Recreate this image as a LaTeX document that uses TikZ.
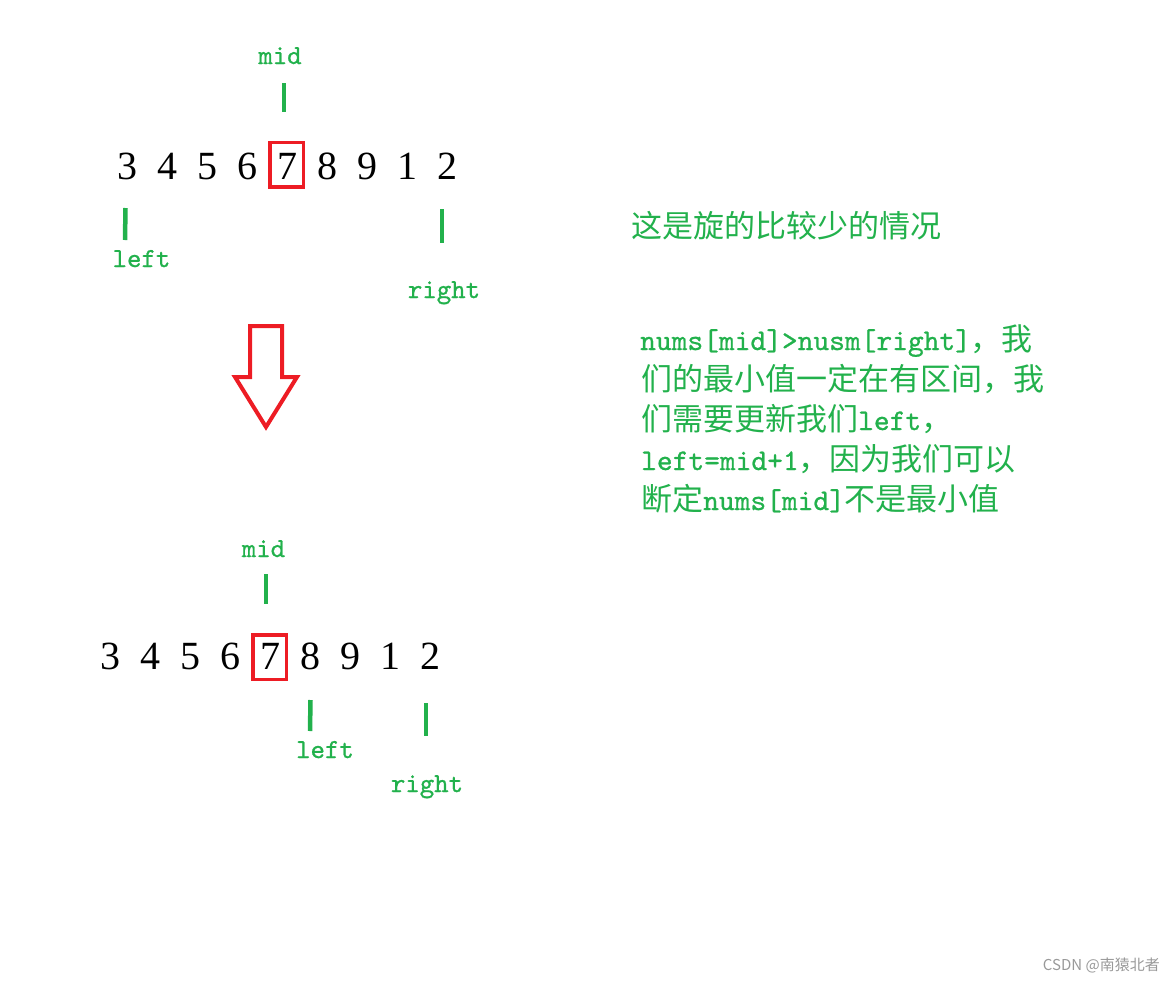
\documentclass[tikz,border=0pt]{standalone}
\usepackage{fontspec}
\setmainfont{Liberation Serif}
\newfontfamily\codefont{lmmono10-regular}[Extension=.otf, FakeBold=0.8]
\newfontfamily\cjk{Noto Sans CJK SC}
\usetikzlibrary{positioning}
\definecolor{paintgreen}{HTML}{22B14C}
\definecolor{paintred}{HTML}{ED1C24}
\newcommand{\zh}[1]{{\cjk\fontsize{31}{40}\selectfont #1}}
\tikzset{
  digit/.style={font=\fontsize{40}{40}\selectfont, inner sep=0pt},
  redbox/.style={draw=paintred, line width=3.5pt, minimum width=33.5pt, minimum height=44.5pt, inner sep=0pt},
  pointer/.style={paintgreen, line width=4.5pt},
  tag/.style={paintgreen, font=\codefont\fontsize{27.5}{28}\selectfont, anchor=base, inner sep=0pt},
  note/.style={paintgreen, font=\codefont\fontsize{30}{40}\selectfont, anchor=base west, inner sep=0pt},
}

\begin{document}
\begin{tikzpicture}[x=1pt,y=-1pt]
\useasboundingbox (0,0) rectangle (1176,983);

% before the update
\foreach \v [count=\i] in {3,4,5,6,7,8,9,1,2}
  \node[digit] (t\i) at (87+40*\i,166.5) {\v};
\node[redbox] (tbox) at (286.5,164.5) {};
\node[tag] (tmid) at (280,64) {mid};
\node[tag] (tleft) at (141.5,267) {left};
\node[tag] (tright) at (444,298) {right};
\coordinate (tm1) at (284,83);  \coordinate (tm2) at (284,112);
\coordinate (tl1) at (125.5,208); \coordinate (tl2) at (125,240);
\coordinate (tr1) at (442,209); \coordinate (tr2) at (442,243);
\draw[pointer] (tm1) -- (tm2);
\draw[pointer] (tl1) -- (tl2);
\draw[pointer] (tr1) -- (tr2);

% hollow arrow
\draw[paintred, line width=4pt, line join=miter]
  (250,326) -- (282,326) -- (282,377) -- (297,377) -- (266,427)
  -- (235,377) -- (250,377) -- cycle;

% after the update
\foreach \v [count=\i] in {3,4,5,6,7,8,9,1,2}
  \node[digit] (b\i) at (70+40*\i,656.5) {\v};
\node[redbox] (bbox) at (269.5,657) {};
\node[tag] (bmid) at (263.5,557) {mid};
\node[tag] (bleft) at (325,758) {left};
\node[tag] (bright) at (427,792) {right};
\coordinate (bm1) at (266,574); \coordinate (bm2) at (266,604);
\coordinate (bl1) at (310.5,700); \coordinate (bl2) at (310,731);
\coordinate (br1) at (426,703); \coordinate (br2) at (426,736);
\draw[pointer] (bm1) -- (bm2);
\draw[pointer] (bl1) -- (bl2);
\draw[pointer] (br1) -- (br2);

% notes
\node[note] (head) at (631,237) {\zh{这是旋的比较少的情况}};
\node[note] (line1) at (640,350) {nums[mid]>nusm[right]\zh{，我}};
\node[note] (line2) at (641,390) {\zh{们的最小值一定在有区间，我}};
\node[note] (line3) at (641,430) {\zh{们需要更新我们}left\zh{，}};
\node[note] (line4) at (641,470) {left=mid+1\zh{，因为我们可以}};
\node[note] (line5) at (641,510) {\zh{断定}nums[mid]\zh{不是最小值}};

\node[anchor=base east, inner sep=0pt, text=black!40, font=\cjk\fontsize{15}{15}\selectfont] (mark) at (1160,970) {CSDN @南猿北者};
\end{tikzpicture}
\end{document}
